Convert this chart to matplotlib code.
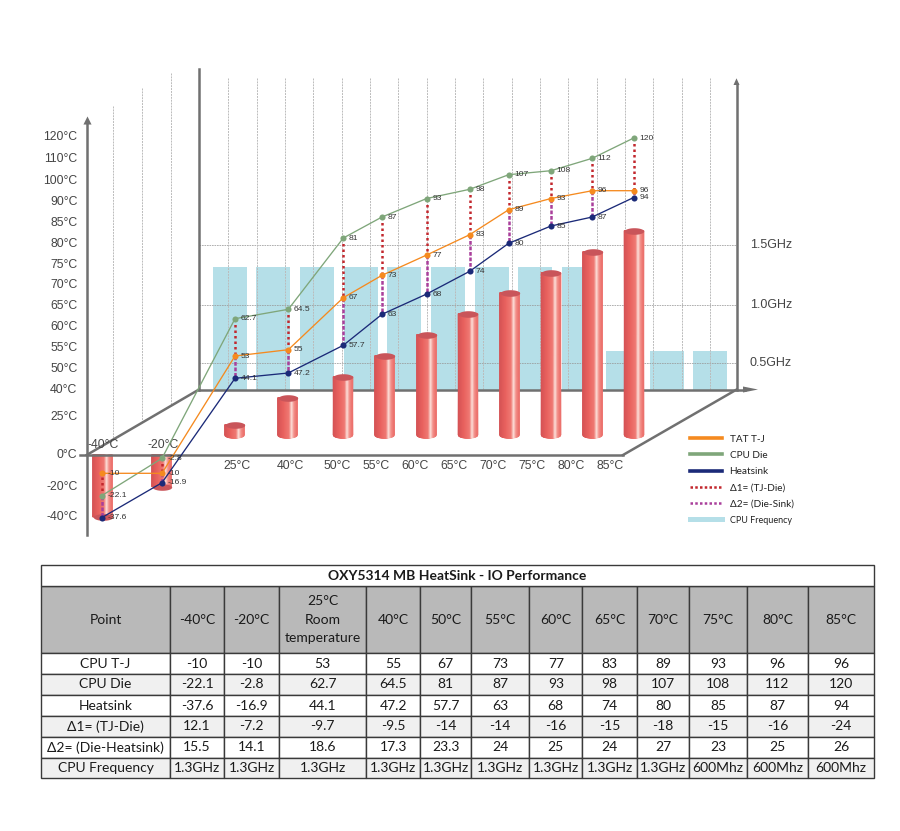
import numpy as np
import matplotlib
matplotlib.use('Agg')
import matplotlib.pyplot as plt
from matplotlib.colors import LinearSegmentedColormap
from matplotlib.lines import Line2D
from matplotlib.patches import Polygon
from matplotlib.path import Path

plt.rcParams['font.family'] = ['Liberation Sans', 'DejaVu Sans']

W, H = 900, 831

# data
ambient = [-40, -20, 25, 40, 50, 55, 60, 65, 70, 75, 80, 85]
cpu_tj = [-10, -10, 53, 55, 67, 73, 77, 83, 89, 93, 96, 96]
cpu_die = [-22.1, -2.8, 62.7, 64.5, 81, 87, 93, 98, 107, 108, 112, 120]
heatsink = [-37.6, -16.9, 44.1, 47.2, 57.7, 63, 68, 74, 80, 85, 87, 94]
freq_ghz = [1.3, 1.3, 1.3, 1.3, 1.3, 1.3, 1.3, 1.3, 1.3, 0.6, 0.6, 0.6]
delta1 = ['12.1', '-7.2', '-9.7', '-9.5', '-14', '-14', '-16', '-15', '-18', '-15', '-16', '-24']
delta2 = ['15.5', '14.1', '18.6', '17.3', '23.3', '24', '25', '24', '27', '23', '25', '26']
freq_labels = ['1.3GHz'] * 9 + ['600Mhz'] * 3
temp_ticks = [-40, -20, 0, 25, 40, 50, 55, 60, 65, 70, 75, 80, 85, 90, 100, 110, 120]
ghz_ticks = [0.5, 1.0, 1.5]

# layout, pixels of the 900x831 picture
temp_px = [517, 486.7, 454.7, 416.7, 389.7, 368.7, 347.7, 326.5, 305.7, 284.7, 264.7,
           243.7, 222.7, 201.7, 180.7, 158.7, 136.7]
# the hand drawn lines do not follow the wall ticks, so they get their own calibration
pts_vals = [-37.6, -22.1, -16.9, -10, -2.8, 44.1, 47.2, 53, 55, 57.7, 62.7, 63, 64.5, 67, 68, 73,
            74, 77, 80, 81, 83, 85, 87, 89, 93, 94, 96, 98, 107, 108, 112, 120]
pts_px = [517.7, 495.7, 482.7, 473.3, 458.3, 378.3, 373, 356, 349.7, 345.3, 318.7, 314.3, 309.3,
          297.7, 294, 275.3, 271.3, 255, 243.3, 238, 234.7, 226, 217, 209.7, 198.5, 197.5, 190.7,
          189.3, 174.7, 170.7, 158.3, 138]
ghz_vals = [0, 0.5, 1.0, 1.3, 1.5]
ghz_px = [389.5, 362.5, 305.3, 267, 244.7]
grid_px = [362.5, 305.3, 244.7]
x_pts = [101.7, 162, 235, 288.3, 343.3, 382, 426.7, 469.7, 508.7, 551, 592.3, 633.7]
x_cyl = [102.5, 161.5, 234.5, 287.5, 343, 384.5, 426.5, 468, 509.5, 551, 592.5, 634]
x_lab = [102.7, 162.7, 236.7, 290.7, 336.7, 375.7, 414.7, 453.7, 492.7, 531.7, 570.7, 609.7]
x_freq = [229.7, 273.2, 317, 361, 404.3, 447.8, 492, 535.3, 579, 623, 666.7, 710]

GREY = '#707070'
TEXT = '#444444'
ORANGE = '#f58a1f'
GREEN = '#7fa67a'
NAVY = '#1b2a78'
RED_DOT = '#c2272d'
PURPLE = '#a93f9b'
BLUE_BAR = '#b5dfe8'
CAP = '#c9555a'

cyl_cmap = LinearSegmentedColormap.from_list('cyl', [
    (0, '#d65355'), (0.3, '#e9625f'), (0.6, '#f07a74'), (0.73, '#fde0da'), (0.86, '#f3908a'), (1, '#ec6f6b')])


def layer(fig, vals, pxs, z):
    # full figure axes: x is picture pixels, y runs through a piecewise scale
    v = np.concatenate([[vals[0] - 2000], vals, [vals[-1] + 2000]])
    p = np.concatenate([[pxs[0] + 2000], pxs, [pxs[-1] - 2000]])
    fwd = lambda a: -np.interp(a, v, p)
    inv = lambda a: np.interp(a, -p, v)
    ax = fig.add_axes([0, 0, 1, 1], zorder=z)
    ax.set_yscale('function', functions=(fwd, inv))
    ax.set_xlim(0, W)
    ax.set_ylim(inv(-H), inv(0))
    ax.axis('off')
    ax.fwd, ax.inv = fwd, inv
    return ax


fig = plt.figure(figsize=(W / 100, H / 100), dpi=100)

ax_freq = layer(fig, ghz_vals, ghz_px, 1)
canvas = fig.add_axes([0, 0, 1, 1], zorder=2)
canvas.set_xlim(0, W)
canvas.set_ylim(H, 0)
canvas.axis('off')
ax_bar = layer(fig, temp_ticks, [p + 8 for p in temp_px], 3)
ax_temp = layer(fig, temp_ticks, temp_px, 4)
ax_pts = layer(fig, pts_vals, pts_px, 5)

# cpu frequency bars on the back wall
ax_freq.bar(x_freq, freq_ghz, width=34, color=BLUE_BAR, linewidth=0)
for g in ghz_ticks:
    ax_freq.text(792, g, f'{g:.1f}GHz', ha='right', va='center', fontsize=9, color=TEXT)

# walls and grid
for gy in grid_px:
    canvas.plot([199, 737], [gy, gy], color='#999999', lw=0.6, ls=(0, (2, 1)), alpha=0.9)
for gx, gtop, low in [(113.3, 106, 440), (142.3, 88, 423), (171, 73, 406)]:
    canvas.plot([gx, gx], [gtop, low], color='#bbbbbb', lw=0.7, ls=(0, (2, 1)))
for gx in np.arange(228.3, 720, 28.33):
    canvas.plot([gx, gx], [78, 389], color='#bbbbbb', lw=0.7, ls=(0, (2, 1)))
canvas.plot([199, 199], [69, 389.5], color=GREY, lw=1.8)
canvas.plot([736.5, 736.5], [84, 389.5], color=GREY, lw=1.8)
canvas.add_patch(Polygon([[733.5, 85], [736.5, 78.3], [739.5, 85]], color=GREY, lw=0))
canvas.plot([199, 745], [389.5, 389.5], color=GREY, lw=1.8)
canvas.plot([86.7, 199], [455, 389.5], color=GREY, lw=1.8)
canvas.plot([623, 736.7], [455, 389.5], color=GREY, lw=1.8)
canvas.add_patch(Polygon([[743, 386.5], [758, 389.5], [743, 392.5]], color=GREY, lw=0))


def cylinder(ax, xc, low, high, cap_at, depth=3.2, half=9.7):
    t = np.linspace(-1, 1, 40)
    xs = xc + t * half
    y_low = ax.inv(ax.fwd(low) - depth * np.sqrt(1 - t ** 2))
    Y = np.vstack([y_low, np.full_like(t, high)])
    X = np.vstack([xs, xs])
    C = np.vstack([(t + 1) / 2, (t + 1) / 2])
    ax.pcolormesh(X, Y, C, cmap=cyl_cmap, shading='gouraud', vmin=0, vmax=1)
    a = np.linspace(0, 2 * np.pi, 60)
    ell = Path(np.column_stack([np.cos(a), 0.34 * np.sin(a)]))
    ax.scatter([xc], [cap_at], marker=ell, s=(2 * half * 0.72) ** 2, color=CAP, linewidths=0, zorder=3)


floor_val = 18.2
for i, t in enumerate(ambient):
    if t < 0:
        cylinder(ax_temp, x_cyl[i], t, 0, t, depth=0)
    else:
        cylinder(ax_bar, x_cyl[i], floor_val, t, t)

# front axes, drawn over the hanging cylinders
ax_temp.plot([80, 623], [0, 0], color=GREY, lw=1.8, zorder=5)
ax_temp.plot([86.7, 86.7], [-58, 136], color=GREY, lw=1.8, zorder=5)
ax_temp.scatter([86.7], [137], marker='^', s=34, color=GREY, linewidths=0, zorder=5)
for t in temp_ticks:
    ax_temp.text(77.5, t, f'{t}°C', ha='right', va='center', fontsize=8.8, color=TEXT)
for i, t in enumerate(ambient):
    y = 6.5 if t < 0 else -7
    ax_temp.text(x_lab[i], y, f'{t}°C', ha='center', va='center', fontsize=8.8, color=TEXT)

# delta lines
for i in range(len(ambient)):
    ax_pts.plot([x_pts[i]] * 2, [cpu_die[i], cpu_tj[i]], color=RED_DOT, lw=1.8, ls=(0, (1, 1.2)), zorder=2)
    ax_pts.plot([x_pts[i]] * 2, [min(cpu_die[i], cpu_tj[i]), heatsink[i]], color=PURPLE, lw=1.8,
                ls=(0, (1.5, 0.7)), zorder=2)

# series
for vals, col in [(cpu_die, GREEN), (cpu_tj, ORANGE), (heatsink, NAVY)]:
    ax_pts.plot(x_pts, vals, color=col, lw=0.95, marker='o', ms=4.4, mew=0, zorder=3)
    for xp, v in zip(x_pts, vals):
        ax_pts.annotate(f'{v:g}', (xp, v), xytext=(4, 0), textcoords='offset points', va='center',
                        fontsize=6.1, color='#333333', zorder=4)

# legend
handles = [Line2D([], [], color=ORANGE, lw=2.6), Line2D([], [], color=GREEN, lw=2.6),
           Line2D([], [], color=NAVY, lw=2.6),
           Line2D([], [], color=RED_DOT, lw=1.8, ls=(0, (1, 0.9))),
           Line2D([], [], color=PURPLE, lw=1.8, ls=(0, (1, 0.9))),
           Line2D([], [], color=BLUE_BAR, lw=3.6)]
names = ['TAT T-J', 'CPU Die', 'Heatsink', 'Δ1= (TJ-Die)', 'Δ2= (Die-Sink)', 'CPU Frequency']
leg = ax_pts.legend(handles, names, frameon=False, loc='upper left', bbox_to_anchor=(690 / W, 1 - 434.7 / H),
                    labelspacing=0.72, handlelength=3.2, handletextpad=0.75,
                    borderaxespad=0, borderpad=0, prop={'family': ['Lato', 'DejaVu Sans'], 'size': 7.2})
for txt in leg.get_texts():
    txt.set_color('#222222')
leg.get_texts()[-1].set_fontsize(6.5)

# table
header = ['Point'] + [f'{t}°C' for t in ambient]
header[3] = '25°C\nRoom\ntemperature'
rows = [['CPU T-J'] + [f'{v:g}' for v in cpu_tj],
        ['CPU Die'] + [f'{v:g}' for v in cpu_die],
        ['Heatsink'] + [f'{v:g}' for v in heatsink],
        ['Δ1= (TJ-Die)'] + delta1,
        ['Δ2= (Die-Heatsink)'] + delta2,
        ['CPU Frequency'] + freq_labels]
col_edges = [41.3, 169.7, 224.3, 278.7, 366.3, 420, 471, 529.3, 582.3, 636.7, 689.3, 746.7, 808.3, 873.7]
row_edges = [586, 653.3, 674, 695, 716, 737, 757.7, 778.3]
top, bottom = 565.3, 778.3

ax_tab = fig.add_axes([col_edges[0] / W, 1 - bottom / H, (col_edges[-1] - col_edges[0]) / W, (bottom - top) / H],
                      zorder=6)
ax_tab.axis('off')
frac = (row_edges[-1] - row_edges[0]) / (bottom - top)
widths = list(np.diff(col_edges) / (col_edges[-1] - col_edges[0]))
tab = ax_tab.table(cellText=rows, colLabels=header, colWidths=widths, cellLoc='center', bbox=[0, 0, 1, frac])
tab.auto_set_font_size(False)
tab.set_fontsize(10)
heights = np.diff(row_edges)
for (r, c), cell in tab.get_celld().items():
    cell.set_height(heights[r])
    cell.set_edgecolor('#3a3a3a')
    cell.set_linewidth(1.0)
    cell.get_text().set_fontfamily(['Lato', 'DejaVu Sans'])
    cell.get_text().set_color('#1a1a1a')
    cell.get_text().set_linespacing(1.65)
    if r == 0:
        cell.set_facecolor('#b9b9b9')
    elif r % 2 == 0:
        cell.set_facecolor('#f0f0f0')

title = ax_tab.table(cellText=[['OXY5314 MB HeatSink - IO Performance']], cellLoc='center', bbox=[0, frac, 1, 1 - frac])
title.auto_set_font_size(False)
title.set_fontsize(10)
cell = title[(0, 0)]
cell.set_edgecolor('#3a3a3a')
cell.set_linewidth(1.0)
cell.get_text().set_fontfamily(['Lato', 'DejaVu Sans'])
cell.get_text().set_fontweight('bold')
cell.get_text().set_color('#1a1a1a')

fig.savefig('out.png', dpi=100)
